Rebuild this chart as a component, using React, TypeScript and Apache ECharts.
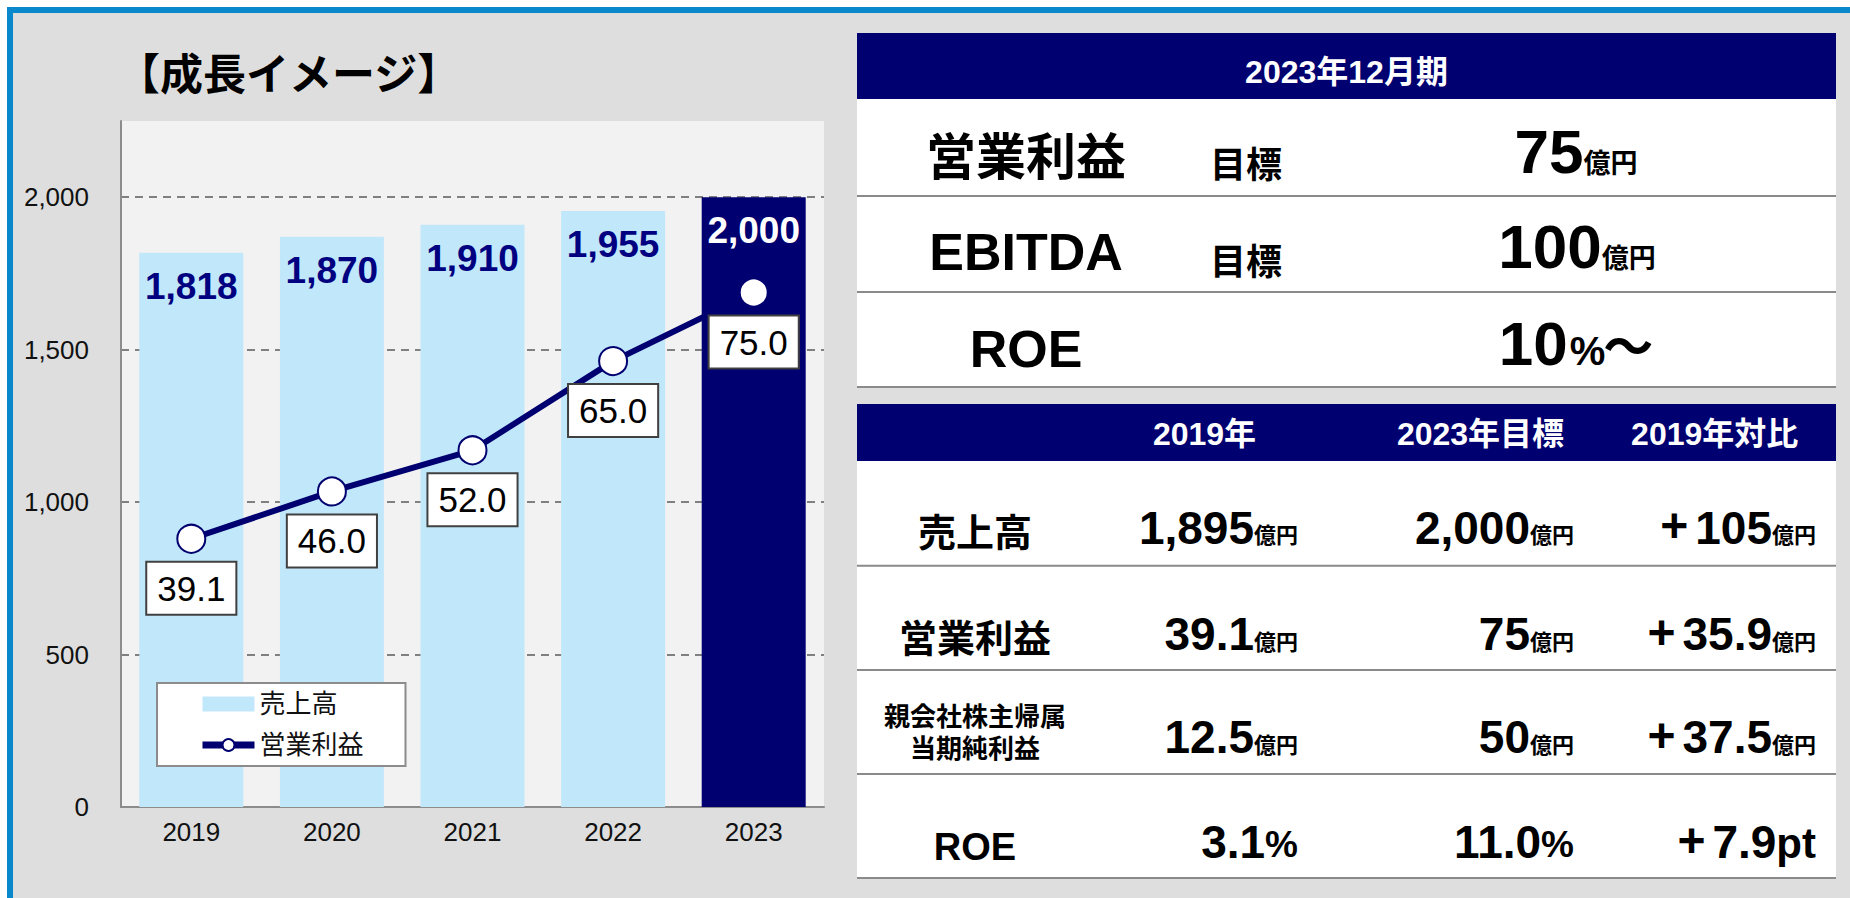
import React, { useEffect, useRef } from 'react';
import * as echarts from 'echarts';

// ---- chart data ----
const years = ['2019', '2020', '2021', '2022', '2023'];
const sales = [1818, 1870, 1910, 1955, 2000];
const operatingProfit = [39.1, 46.0, 52.0, 65.0, 75.0];
const highlightYear = '2023';
const salesName = '売上高';
const profitName = '営業利益';
const chartTitle = '【成長イメージ】';

// ---- target table ----
const targetHeader = '2023年12月期';
const targetItems = ['営業利益', 'EBITDA', 'ROE'];
const targetNotes = ['目標', '目標', ''];
const targetNumbers = ['75', '100', '10'];
const targetUnits = [['億円'], ['億円'], ['%', '～']];

// ---- comparison table ----
const compareHeaders = ['2019年', '2023年目標', '2019年対比'];
const compareItems = [['売上高'], ['営業利益'], ['親会社株主帰属', '当期純利益'], ['ROE']];
const compare2019 = ['1,895', '39.1', '12.5', '3.1'];
const compareTarget = ['2,000', '75', '50', '11.0'];
const compareDiff = ['+105', '+35.9', '+37.5', '+7.9'];
const compareUnits = ['億円', '億円', '億円', '%'];
const compareDiffUnits = ['億円', '億円', '億円', 'pt'];

const NAVY = '#000070';
const FONT = '"Liberation Sans", "Noto Sans CJK JP", sans-serif';
const CJK = '"Noto Sans CJK JP", sans-serif';
const CENTRAL = 0.3465;

function charW(ch: string, size: number): number {
  if (/[0-9]/.test(ch)) return 0.556 * size;
  if (ch === ',' || ch === '.') return 0.278 * size;
  if (ch === '%') return 0.889 * size;
  if (ch === '+') return 0.584 * size;
  if (ch === 'p') return 0.611 * size;
  if (ch === 't') return 0.333 * size;
  return size;
}
function strW(s: string, size: number) {
  let w = 0;
  for (const ch of s) w += charW(ch, size);
  return w;
}

function txt(t: string, x: number, y: number, size: number, align = 'left', color = '#000', weight = 'bold', family = FONT) {
  return {
    type: 'text',
    z: 10,
    silent: true,
    style: {
      text: t, x, y, fill: color,
      font: `${weight} ${size}px ${family}`,
      align, verticalAlign: 'middle', textAlign: align, textVerticalAlign: 'middle',
    },
  };
}
function txtBase(t: string, x: number, base: number, size: number, align = 'left', color = '#000') {
  return txt(t, x, base - CENTRAL * size, size, align, color);
}
function rect(x: number, y: number, w: number, h: number, fill: string, z = 1) {
  return { type: 'rect', z, silent: true, shape: { x, y, width: w, height: h }, style: { fill } };
}
function hline(x1: number, x2: number, y: number) {
  return { type: 'line', z: 3, silent: true, shape: { x1, y1: y, x2, y2: y }, style: { stroke: '#8A8A8A', lineWidth: 2 } };
}

function unitSize(u: string, big: boolean) {
  if (u === '億円') return big ? 27 : 22;
  if (u === '%') return big ? 40 : 37;
  if (u === 'pt') return 42;
  if (u === '～') return 50;
  return 22;
}

function buildGraphics() {
  const g: any[] = [];
  // frame
  g.push({ type: 'rect', z: -10, silent: true, shape: { x: 10, y: 10, width: 1900, height: 1000 }, style: { fill: '#DEDEDE', stroke: '#0A88CC', lineWidth: 6 } });
  // title
  g.push(txt(chartTitle, 117, 71, 43, 'left', '#000', 'bold', CJK));

  // ---- top table ----
  const TX = 857, TW = 979, TR = TX + TW;
  g.push(rect(TX, 33, TW, 66, NAVY));
  g.push(rect(TX, 99, TW, 288, '#FFFFFF'));
  g.push(txt(targetHeader, TX + TW / 2, 72, 32, 'center', '#fff'));
  [196, 292, 387].forEach((y) => g.push(hline(TX, TR, y)));
  const labelBase = [175, 270, 367];
  const labelSize = [50, 52, 52];
  const noteBase = [177.5, 274.5, 0];
  const valBase = [173, 268, 365];
  const valCenter = [1576, 1577, 1576];
  targetItems.forEach((item, i) => {
    g.push(txtBase(item, 1026, labelBase[i], labelSize[i], 'center'));
    if (targetNotes[i]) g.push(txtBase(targetNotes[i], 1210, noteBase[i], 36, 'left'));
    const num = targetNumbers[i];
    const ns = 62;
    const nw = strW(num, ns);
    let total = nw;
    targetUnits[i].forEach((u) => (total += strW(u, unitSize(u, true))));
    let x = valCenter[i] - total / 2;
    g.push(txtBase(num, x, valBase[i], ns, 'left'));
    x += nw;
    targetUnits[i].forEach((u) => {
      const us = unitSize(u, true);
      g.push(txtBase(u, x + (u === '%' ? 2 : 0), valBase[i], us, 'left'));
      x += strW(u, us);
    });
  });

  // ---- comparison table ----
  g.push(rect(TX, 404, TW, 57, NAVY));
  g.push(rect(TX, 461, TW, 417, '#FFFFFF'));
  const headX = [1204.5, 1480.5, 1714.7];
  compareHeaders.forEach((h, i) => g.push(txt(h, headX[i], 434, 32, 'center', '#fff')));
  [565.7, 670, 774, 878].forEach((y) => g.push(hline(TX, TR, y)));
  const rowCenter = [[533], [639], [717, 749], [847]];
  const rowSize = [38, 38, 26, 38];
  const rowBase = [543.5, 650, 753, 857.7];
  const colRight = [1298, 1574, 1816];
  compareItems.forEach((lines, r) => {
    lines.forEach((ln, k) => g.push(txt(ln, 975, rowCenter[r][k], rowSize[r], 'center')));
    const cols = [
      [compare2019[r], compareUnits[r]],
      [compareTarget[r], compareUnits[r]],
      [compareDiff[r], compareDiffUnits[r]],
    ];
    cols.forEach(([num, unit], c) => {
      const us = unitSize(unit, false);
      const uw = strW(unit, us);
      g.push(txtBase(unit, colRight[c], rowBase[r], us, 'right'));
      let body = num;
      if (num.startsWith('+')) {
        body = num.slice(1);
        const bw = strW(body, 46);
        g.push(txtBase('+', colRight[c] - uw - bw - 7, rowBase[r] - 1, 48, 'right'));
      }
      g.push(txtBase(body, colRight[c] - uw, rowBase[r], 46, 'right'));
    });
  });
  return g;
}

export default function App() {
  const ref = useRef<HTMLDivElement>(null);
  useEffect(() => {
    if (!ref.current) return;
    const chart = echarts.init(ref.current, null, { renderer: 'svg' });
    const option: any = {
      animation: false,
      backgroundColor: '#FFFFFF',
      textStyle: { fontFamily: FONT },
      grid: { left: 121, top: 121, width: 703, height: 686, show: true, backgroundColor: '#F2F2F2', borderWidth: 0 },
      legend: {
        orient: 'vertical', left: 157, top: 683,
        backgroundColor: '#FFFFFF', borderColor: '#8C8C8C', borderWidth: 2,
        padding: [8, 42, 8, 42], itemWidth: 52, itemHeight: 15, itemGap: 15,
        selectedMode: false,
        textStyle: { fontSize: 26, color: '#111', fontFamily: FONT },
        data: [
          { name: salesName, icon: 'rect' },
          { name: profitName, lineStyle: { width: 7, color: NAVY }, itemStyle: { color: '#FFFFFF', borderColor: NAVY, borderWidth: 2 } },
        ],
      },
      xAxis: {
        type: 'category', data: years,
        axisLine: { lineStyle: { color: '#8C8C8C', width: 2 } },
        axisTick: { show: false },
        axisLabel: { fontSize: 26, color: '#111', margin: 12, fontFamily: FONT },
        splitLine: { show: false },
      },
      yAxis: [
        {
          type: 'value', min: 0, max: 2250, interval: 500,
          axisLine: { show: true, lineStyle: { color: '#8C8C8C', width: 2 } },
          axisTick: { show: false },
          axisLabel: {
            fontSize: 26, color: '#111', margin: 32, fontFamily: FONT, showMaxLabel: false,
            formatter: (v: number) => (v > 2000 ? '' : v.toLocaleString('en-US')),
          },
          splitLine: { show: true, showMaxLine: false, showMinLine: false, lineStyle: { color: '#808080', width: 2, type: [8, 6] } },
        },
        { type: 'value', min: 0, max: 100, show: false, splitLine: { show: false } },
      ],
      series: [
        {
          name: salesName, type: 'bar', barWidth: 104,
          data: sales.map((v, i) =>
            years[i] === highlightYear ? { value: v, itemStyle: { color: NAVY }, label: { color: '#FFFFFF' } } : v
          ),
          itemStyle: { color: '#C1E7FA' },
          label: {
            show: true, position: 'insideTop', distance: 15, fontSize: 37, fontWeight: 'bold',
            color: '#000080', fontFamily: FONT,
            formatter: (p: any) => Number(p.value).toLocaleString('en-US'),
          },
        },
        {
          name: profitName, type: 'line', yAxisIndex: 1, data: operatingProfit, z: 5,
          symbol: 'circle', symbolSize: 28,
          lineStyle: { color: NAVY, width: 6 },
          itemStyle: { color: '#FFFFFF', borderColor: NAVY, borderWidth: 2 },
          label: {
            show: true, position: 'bottom', distance: 9,
            formatter: (p: any) => Number(p.value).toFixed(1),
            fontSize: 35, lineHeight: 35, color: '#000', fontFamily: FONT,
            backgroundColor: '#FFFFFF', borderColor: '#404040', borderWidth: 2, padding: [8, 10],
          },
        },
      ],
      graphic: buildGraphics(),
    };
    chart.setOption(option);
    return () => chart.dispose();
  }, []);
  return <div ref={ref} style={{ position: 'absolute', left: 0, top: 0, width: 1850, height: 898 }} />;
}
